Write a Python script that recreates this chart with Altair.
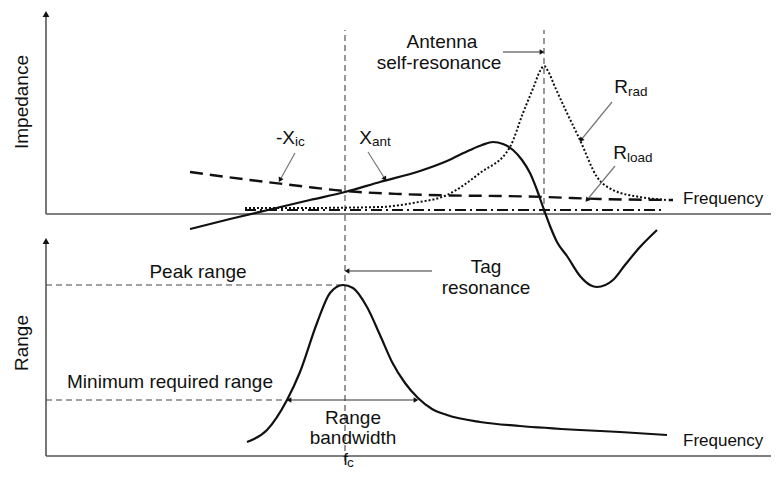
import math
import altair as alt
import pandas as pd

# ---------------- data (diagram units: x = frequency position, y = level) ----------------
# upper panel curves (impedance)
xic_x = [144, 204, 254, 299, 354, 404, 454, 499, 554, 627]
xic_y = [285, 277, 271, 266, 263, 261.5, 261, 260, 258, 257]

xant_x = [144, 184, 224, 264, 299, 334, 374, 401, 424, 436, 447, 457, 467, 476, 484, 491,
          497, 504, 511, 521, 534, 544, 551, 567, 579, 594, 611]
xant_y = [228, 238, 247.5, 257, 265, 275, 286, 296, 307, 312, 315, 313, 307, 297, 284, 267,
          250, 231, 215, 201, 181, 172, 170, 177, 192, 210, 227]

rrad_x = [199, 254, 334, 367, 401, 434, 464, 477, 488, 494, 498, 502, 509, 521, 534, 551, 567,
          594, 621]
rrad_y = [249, 249, 250, 254, 262, 284, 310, 344, 371, 386, 391, 386, 370, 344, 317, 280, 267,
          260, 257]

rload_x = [199, 617]
rload_y = [247, 247]

# lower panel curve (range)
range_x = [201, 221, 241, 254, 271, 284, 297, 307, 321, 334, 346, 359, 372, 386, 401, 434,
           474, 534, 574, 621]
range_y = [15, 27, 57, 85, 134, 164, 172, 169, 150, 122, 95, 74, 59, 48, 42, 35, 31, 27, 25, 22]

# axes (x, y, x2, y2)
axis_segs = [(0, 243, 0, 441), (0, 243, 731, 243), (0, 1, 0, 214), (0, 1, 731, 1)]
axis_heads = [(0, 443, "up"), (0, 216, "up")]

# dashed guides
guide_segs = [(299, -4, 299, 427), (498, 243, 498, 427), (0, 172, 294, 172), (0, 57, 241, 57)]

# annotation arrows: (x_from, y_from, x_to, y_to, head at start?, head at end?)
arrow_segs = [
    (457, 405, 496, 405, False, True),    # antenna self-resonance
    (386, 186, 301, 186, False, True),    # tag resonance
    (243, 57, 370, 57, True, True),       # range bandwidth
    (249, 304, 234, 277, False, True),    # -Xic pointer
    (322, 305, 339, 278, False, True),    # Xant pointer
    (566, 355, 535, 317, False, True),    # Rrad pointer
    (569, 291, 541, 257, False, True),    # Rload pointer
]

# labels
labels = [
    ("Impedance", -24, 355, "center", 19, 270),
    ("Range", -24, 114, "center", 19, 270),
    ("Antenna", 396, 415, "center", 19, 0),
    ("self-resonance", 393, 394, "center", 19, 0),
    ("-X", 249, 319, "right", 19, 0),
    ("X", 326, 319, "right", 19, 0),
    ("R", 582, 370, "right", 19, 0),
    ("R", 581, 304, "right", 19, 0),
    ("Frequency", 637, 258, "left", 17, 0),
    ("Frequency", 637, 16, "left", 17, 0),
    ("Peak range", 152, 185, "center", 19, 0),
    ("Minimum required range", 124, 75, "center", 19, 0),
    ("Tag", 440, 190, "center", 19, 0),
    ("resonance", 440, 169, "center", 19, 0),
    ("Range", 307, 39, "center", 19, 0),
    ("bandwidth", 307, 19, "center", 19, 0),
    ("f", 302, -3, "right", 17, 0),
]
sub_labels = [
    ("ic", 249, 315), ("ant", 326, 315), ("rad", 582, 365), ("load", 581, 299), ("c", 301, -6),
]

# ---------------- build ----------------
W, H = 763, 463
xs = alt.Scale(domain=[-38, 725], nice=False, zero=False)
ys = alt.Scale(domain=[-14, 449], nice=False, zero=False)
FONT = "Liberation Sans"


def curve_df(xv, yv):
    return pd.DataFrame({"x": xv, "y": yv, "i": range(len(xv))})


def curve(xv, yv, dash=None, width=2.2, color="#111"):
    kw = dict(color=color, strokeWidth=width, interpolate="monotone", clip=False)
    if dash:
        kw["strokeDash"] = dash
    return alt.Chart(curve_df(xv, yv)).mark_line(**kw).encode(
        x=alt.X("x:Q", scale=xs, axis=None),
        y=alt.Y("y:Q", scale=ys, axis=None),
        order=alt.Order("i:Q"),
    )


def segs(rows, color, width, dash=None):
    df = pd.DataFrame(rows, columns=["x", "y", "x2", "y2"])
    kw = dict(color=color, strokeWidth=width, clip=False)
    if dash:
        kw["strokeDash"] = dash
    return alt.Chart(df).mark_rule(**kw).encode(
        x=alt.X("x:Q", scale=xs, axis=None),
        y=alt.Y("y:Q", scale=ys, axis=None),
        x2="x2:Q",
        y2="y2:Q",
    )


# arrowheads
heads = []
for (x0, y0, x1, y1, hs, he) in arrow_segs:
    if he:
        ang = math.degrees(math.atan2(x1 - x0, y1 - y0)) % 360
        heads.append({"x": x1, "y": y1, "a": ang, "s": 30})
    if hs:
        ang = math.degrees(math.atan2(x0 - x1, y0 - y1)) % 360
        heads.append({"x": x0, "y": y0, "a": ang, "s": 30})
for (x, y, d) in axis_heads:
    heads.append({"x": x, "y": y, "a": 0, "s": 45})
heads_df = pd.DataFrame(heads)

head_layer = alt.Chart(heads_df).mark_point(
    shape="triangle-up", filled=True, color="#111", opacity=1, clip=False
).encode(
    x=alt.X("x:Q", scale=xs, axis=None),
    y=alt.Y("y:Q", scale=ys, axis=None),
    angle=alt.Angle("a:Q", scale=None),
    size=alt.Size("s:Q", scale=None),
)

lab_df = pd.DataFrame(labels, columns=["t", "x", "y", "align", "size", "angle"])
text_layers = []
for (al, sz, an), g in lab_df.groupby(["align", "size", "angle"]):
    text_layers.append(
        alt.Chart(g).mark_text(
            align=al, baseline="middle", fontSize=int(sz), angle=int(an),
            font=FONT, color="#111", clip=False
        ).encode(
            x=alt.X("x:Q", scale=xs, axis=None),
            y=alt.Y("y:Q", scale=ys, axis=None),
            text="t:N",
        )
    )

sub_df = pd.DataFrame(sub_labels, columns=["t", "x", "y"])
sub_layer = alt.Chart(sub_df).mark_text(
    align="left", baseline="middle", fontSize=13.5, font=FONT, color="#111", clip=False
).encode(
    x=alt.X("x:Q", scale=xs, axis=None),
    y=alt.Y("y:Q", scale=ys, axis=None),
    text="t:N",
)

arrow_lines = segs([(a, b, c, d) for (a, b, c, d, _, __) in arrow_segs[:3]], "#333", 1.2)
pointer_lines = segs([(a, b, c, d) for (a, b, c, d, _, __) in arrow_segs[3:]], "#777", 1.2)

chart = alt.layer(
    segs(axis_segs, "#555", 1.6),
    segs(guide_segs, "#444", 1.1, dash=[6, 4]),
    curve(rload_x, rload_y, dash=[11, 4, 2, 4], width=2),
    curve(rrad_x, rrad_y, dash=[2, 2], width=2),
    curve(xic_x, xic_y, dash=[13, 7], width=2.4),
    curve(xant_x, xant_y, width=2.2),
    curve(range_x, range_y, width=2.2),
    arrow_lines,
    pointer_lines,
    head_layer,
    *text_layers,
    sub_layer,
).properties(
    width=W, height=H, padding=0,
    autosize=alt.AutoSizeParams(type="none"),
).configure_view(stroke=None)

chart.save("out.html", embed_options={"renderer": "svg", "actions": False})
